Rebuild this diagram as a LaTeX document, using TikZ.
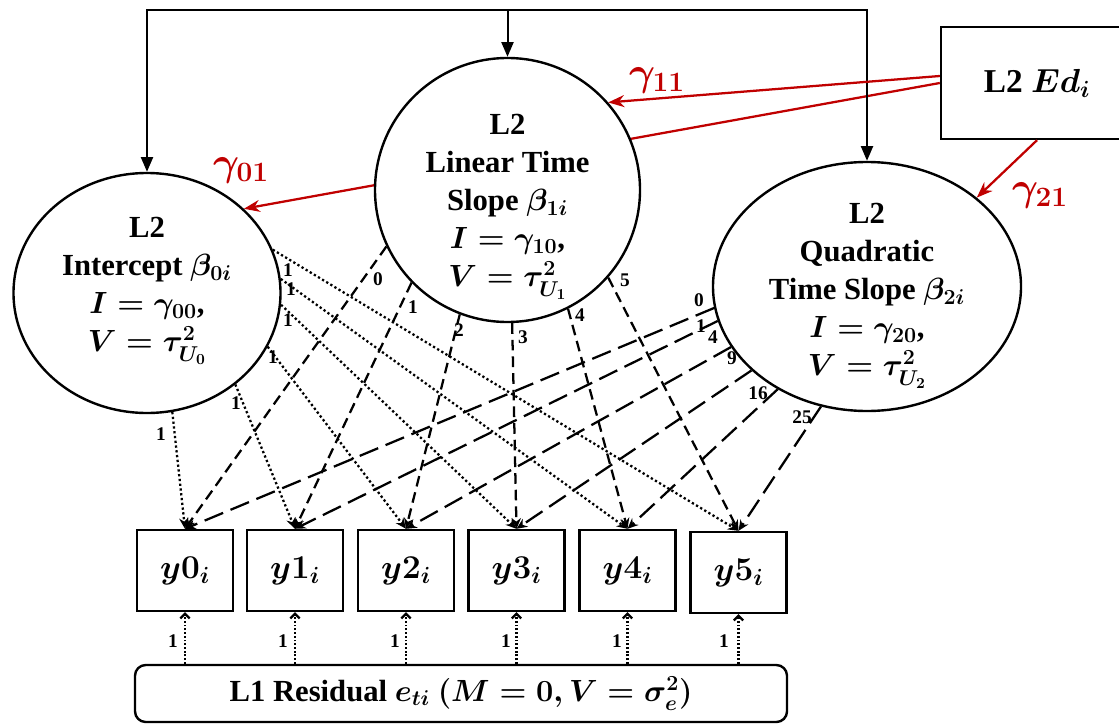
\RequirePackage{fix-cm}
\documentclass[tikz,border=0pt]{standalone}
\usepackage{fontspec}
\setmainfont{Liberation Serif}
\usepackage{amsmath}
\usetikzlibrary{arrows.meta,shapes.geometric,calc}
\definecolor{gred}{RGB}{192,0,0}
\pgfdeclarelayer{bg}
\pgfsetlayers{bg,main}
\begin{document}
\begin{tikzpicture}[x=0.75pt,y=-0.75pt,
  ell/.style={draw,ellipse,line width=1.8pt,fill=white,inner sep=0pt},
  txt/.style={font=\fontsize{23}{28.5}\selectfont\bfseries\boldmath,align=center,inner sep=0pt},
  obs/.style={draw,line width=1.8pt,fill=white,minimum width=72pt,minimum height=60.75pt,inner sep=0pt,font=\fontsize{25}{28}\selectfont\bfseries\boldmath},
  edbox/.style={draw,line width=1.8pt,fill=white,minimum width=144pt,minimum height=84pt,inner sep=0pt,font=\fontsize{25}{28}\selectfont\bfseries\boldmath},
  resbox/.style={draw,line width=1.8pt,rounded corners=8pt,minimum width=489pt,minimum height=42.75pt,inner sep=0pt,font=\fontsize{23}{26}\selectfont\bfseries\boldmath},
  blk/.style={line width=1.5pt,-{Triangle[length=11pt,width=9pt]}},
  gam/.style={draw=gred,line width=1.7pt,-{Stealth[length=12pt,width=9pt]}},
  gamlab/.style={text=gred,font=\fontsize{30}{32}\selectfont\bfseries\boldmath,inner sep=0pt},
  ldot/.style={line width=1.7pt,dash pattern=on 1.7pt off 1.9pt,-{Stealth[length=8pt,width=7pt]}},
  ldash/.style={line width=1.7pt,dash pattern=on 8pt off 4.5pt,-{Stealth[length=8pt,width=7pt]}},
  lldash/.style={line width=1.7pt,dash pattern=on 15pt off 6pt,-{Stealth[length=8pt,width=7pt]}},
  resarr/.style={line width=1.7pt,dash pattern=on 1.4pt off 1.4pt,-{Straight Barb[length=3.5pt,width=7pt]}},
  lab/.style={font=\fontsize{14.5}{15}\selectfont\bfseries,inner sep=0pt}
]
\useasboundingbox (0,0) rectangle (1119,724);

% latent ellipses
\node[ell,minimum width=200.25pt,minimum height=180pt] (Int) at (147,293) {};
\node[ell,minimum width=198.75pt,minimum height=198pt] (Lin) at (507.5,190) {};
\node[ell,minimum width=231pt,minimum height=186.75pt] (Quad) at (867,286.5) {};
\node[txt] (IntT) at (147,291) {L2\\Intercept $\beta_{0i}$\\$I=\gamma_{00}$,\\$V=\tau^2_{U_0}$};
\node[txt] (LinT) at (507.5,207) {L2\\Linear Time\\Slope $\beta_{1i}$\\$I=\gamma_{10}$,\\$V=\tau^2_{U_1}$};
\node[txt] (QuadT) at (867,296) {L2\\Quadratic\\Time Slope $\beta_{2i}$\\$I=\gamma_{20}$,\\$V=\tau^2_{U_2}$};

% predictor
\node[edbox] (Ed) at (1037,83) {L2 $Ed_i$};

% observed
\node[obs] (y0) at (185,570.5) {$y0_i$};
\node[obs] (y1) at (295,570.5) {$y1_i$};
\node[obs] (y2) at (406,570.5) {$y2_i$};
\node[obs] (y3) at (516.5,570.5) {$y3_i$};
\node[obs] (y4) at (627.5,570.5) {$y4_i$};
\node[obs] (y5) at (738.5,572.5) {$y5_i$};

% residual
\node[resbox] (Res) at (461,693.5) {L1 Residual $e_{ti}$ $(M=0,V=\sigma^2_e)$};

% top connectors
\coordinate (tm) at (507.5,10);
\draw[blk] (tm) -- (Lin.north);
\draw[blk] (tm) -| (Int.north);
\draw[blk] (tm) -| (Quad.north);

% red paths
\draw[gam] ($(Ed.west)+(0,-7)$) -- (Lin.41);
\begin{pgfonlayer}{bg}
\draw[gam] (Ed.west) -- (Int.41);
\end{pgfonlayer}
\draw[gam] (Ed.south) -- (Quad.39);
\node[gamlab] (g01) at (241,170) {$\gamma_{01}$};
\node[gamlab] (g11) at (657,80) {$\gamma_{11}$};
\node[gamlab] (g21) at (1040,195) {$\gamma_{21}$};

% intercept loadings
\draw[ldot] (Int.-78) -- (y0.north);
\draw[ldot] (Int.-46) -- (y1.north);
\draw[ldot] (Int.-24) -- (y2.north);
\draw[ldot] (Int.-5) -- (y3.north);
\draw[ldot] (Int.6) -- (y4.north);
\draw[ldot] (Int.19) -- (y5.north);
\node[lab] (li0) at (161,434) {1};
\node[lab] (li1) at (236,403) {1};
\node[lab] (li2) at (273,357) {1};
\node[lab] (li3) at (288,320) {1};
\node[lab] (li4) at (291,289) {1};
\node[lab] (li5) at (288,270) {1};

% linear loadings
\draw[ldash] (Lin.-155) -- (y0.north);
\draw[ldash] (Lin.-136) -- (y1.north);
\draw[ldash] (Lin.-111) -- (y2.north);
\draw[ldash] (Lin.-88) -- (y3.north);
\draw[ldash] (Lin.-63) -- (y4.north);
\draw[ldash] (Lin.-41) -- (y5.north);
\node[lab] (ll0) at (378,279) {0};
\node[lab] (ll1) at (413,307) {1};
\node[lab] (ll2) at (459,330) {2};
\node[lab] (ll3) at (523,337) {3};
\node[lab] (ll4) at (580,315) {4};
\node[lab] (ll5) at (625,280) {5};

% quadratic loadings
\draw[lldash] (Quad.188) -- (y0.north);
\draw[lldash] (Quad.193) -- (y1.north);
\draw[lldash] (Quad.204) -- (y2.north);
\draw[lldash] (Quad.216) -- (y3.north);
\draw[lldash] (Quad.229) -- (y4.north);
\draw[lldash] (Quad.249) -- (y5.north);
\node[lab] (lq0) at (699,300) {0};
\node[lab] (lq1) at (701,326) {1};
\node[lab] (lq2) at (713,337) {4};
\node[lab] (lq3) at (732,358) {9};
\node[lab] (lq4) at (758,393) {16};
\node[lab] (lq5) at (802,417) {25};

% residual paths
\foreach \k/\lx in {0/173,1/283,2/395,3/506,4/617,5/724} {
  \draw[resarr] (y\k.south |- Res.north) -- (y\k.south);
  \node[lab] (lr\k) at (\lx,641) {1};
}
\end{tikzpicture}
\end{document}
